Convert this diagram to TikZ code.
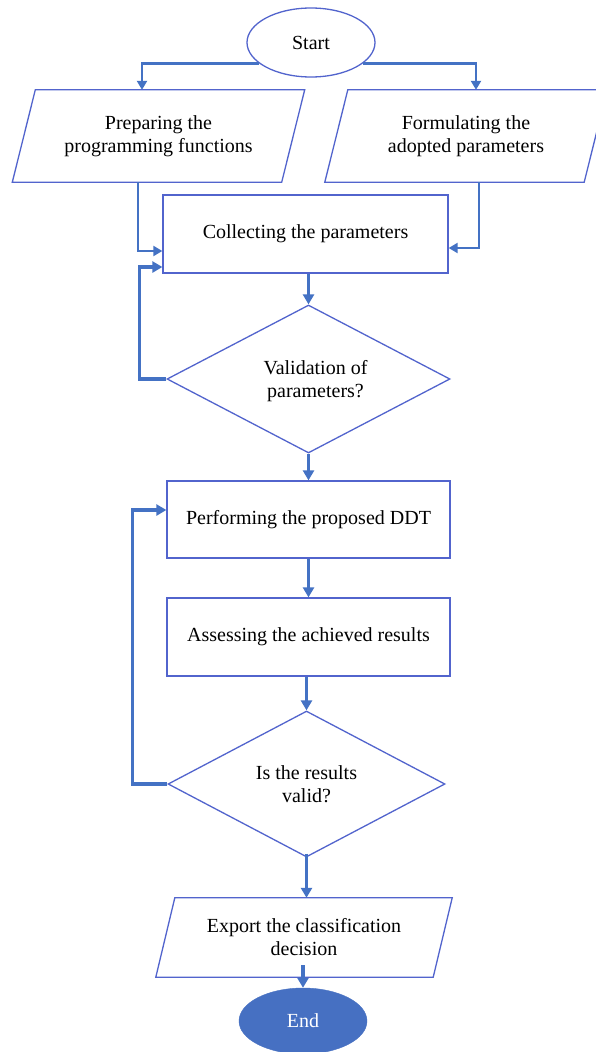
\documentclass[tikz,border=0pt]{standalone}
\usepackage{fontspec}
\setmainfont{Liberation Serif}
\usetikzlibrary{shapes.geometric,arrows.meta}
\definecolor{shapeblue}{RGB}{82,100,205}
\definecolor{arrowblue}{RGB}{68,114,196}
\definecolor{endblue}{RGB}{70,112,194}
\newcommand\drawpara[2]{\draw[shapeline] ([xshift=#2]#1.north west) -- ([xshift=#2]#1.north east) -- ([xshift=-#2]#1.south east) -- ([xshift=-#2]#1.south west) -- cycle;}
\begin{document}
\begin{tikzpicture}[x=1pt,y=-1pt,
  txt/.style={font=\fontsize{20}{23}\selectfont, align=center, text=black, inner sep=0pt},
  shapeline/.style={draw=shapeblue, line width=1.3pt},
  boxnode/.style={txt, shapeline, rectangle, minimum width=284pt, minimum height=78pt},
  paranode/.style={txt, rectangle, draw=none},
  diamnode/.style={txt, shapeline, diamond, inner sep=0pt},
  ovalnode/.style={txt, ellipse, minimum width=128pt},
  thinarrow/.style={draw=arrowblue, line width=2.2pt, -{Triangle[length=9pt,width=10pt]}},
  thickarrow/.style={draw=arrowblue, line width=3.6pt, -{Triangle[length=10pt,width=11pt]}}]
\useasboundingbox (0,0) rectangle (596,1052);
\fill[white] (0,0) rectangle (596,1052);

% nodes
\node[ovalnode, shapeline, minimum height=69pt] (start) at (311,42.5) {Start};
\node[paranode, minimum width=269pt, minimum height=92pt] (prep) at (158.5,136) {Preparing the\\programming functions};
\drawpara{prep}{11.5pt}
\node[paranode, minimum width=259pt, minimum height=92pt] (form) at (466,136) {Formulating the\\adopted parameters};
\drawpara{form}{11.5pt}
\node[boxnode, minimum width=285pt] (collect) at (305.5,234) {Collecting the parameters};
\node[diamnode, minimum width=283pt, minimum height=148pt] (d1) at (308.5,379) {};
\node[txt] (d1t) at ([xshift=7pt,yshift=-2pt]d1.center) {Validation of\\parameters?};
\node[boxnode, minimum width=283pt, minimum height=77pt] (box2) at (308.5,519.5) {Performing the proposed DDT};
\node[boxnode, minimum width=283pt] (box3) at (308.5,637) {Assessing the achieved results};
\node[diamnode, minimum width=277pt, minimum height=146pt] (d2) at (306.5,784) {Is the results\\valid?};
\node[paranode, minimum width=277pt, minimum height=79pt] (export) at (304,937.5) {Export the classification\\decision};
\drawpara{export}{9.5pt}
\node[ovalnode, draw=endblue, fill=endblue, text=white, minimum height=66pt] (endn) at (303,1021) {End};

% connectors
\draw[thinarrow] (start.202) -| ([xshift=-16.5pt]prep.north);
\draw[thinarrow] (start.338) -| ([xshift=10pt]form.north);
\draw[thinarrow] ([xshift=-20.5pt]prep.south) |- ([yshift=-17pt]collect.west);
\draw[thinarrow] ([xshift=13pt]form.south) |- ([yshift=-14pt]collect.east);
\draw[thickarrow] (collect.south -| d1.north) -- (d1.north);
\draw[thickarrow] (d1.west) -- ++(-27pt,0pt) |- ([yshift=-33pt]collect.west);
\draw[thickarrow] (d1.south) -- (d1.south |- box2.north);
\draw[thickarrow] (box2.south) -- (box3.north);
\draw[thickarrow] (d2.north |- box3.south) -- (d2.north);
\draw[thickarrow] (d2.west) -- ++(-35pt,0pt) |- ([yshift=9.5pt]box2.west);
\draw[thickarrow] ([yshift=4pt]d2.south) -- (d2.south |- export.north);
\draw[thickarrow] ([yshift=12pt]export.south -| endn.north) -- (endn.north);
\end{tikzpicture}
\end{document}
